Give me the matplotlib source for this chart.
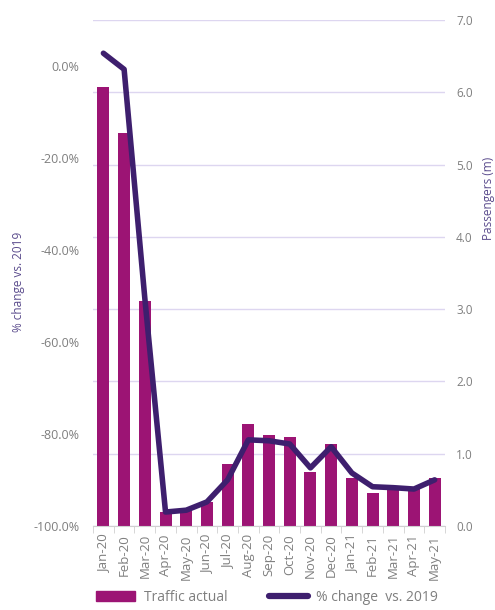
import numpy as np
import matplotlib.pyplot as plt
import matplotlib.patches as mpatches
from matplotlib.lines import Line2D
from matplotlib.ticker import FixedLocator

plt.rcParams['font.family'] = ['Open Sans', 'DejaVu Sans']

months = ['Jan-20', 'Feb-20', 'Mar-20', 'Apr-20', 'May-20', 'Jun-20', 'Jul-20',
          'Aug-20', 'Sep-20', 'Oct-20', 'Nov-20', 'Dec-20', 'Jan-21', 'Feb-21',
          'Mar-21', 'Apr-21', 'May-21']
traffic = [6.07, 5.44, 3.11, 0.19, 0.22, 0.33, 0.86, 1.41, 1.26, 1.23,
           0.75, 1.13, 0.66, 0.45, 0.52, 0.51, 0.66]
pct_change = [2.8, -0.7, -50.5, -97.0, -96.6, -94.8, -90.0, -81.3, -81.5,
              -82.2, -87.4, -82.8, -88.5, -91.5, -91.7, -92.0, -90.0]

left_ticks = [0, -20, -40, -60, -80, -100]
right_ticks = [0, 1, 2, 3, 4, 5, 6, 7]

bar_color = '#9c1474'
line_color = '#3e1f6e'
label_color = '#5a4b8c'
tick_color = '#7f7f7f'
grid_color = '#ddd6f0'

fig = plt.figure(figsize=(4.95, 6.10), dpi=100)
ax = fig.add_axes([0.188, 0.138, 0.711, 0.829])
ax2 = ax.twinx()
x = np.arange(len(months))

# bars on the passengers scale (shown on the right)
ax.bar(x, traffic, width=0.58, color=bar_color, zorder=2)
ax.set_ylim(0, 7)
ax.set_xlim(-0.5, len(months) - 0.5)
ax.yaxis.tick_right()
ax.yaxis.set_label_position('right')
ax.set_yticks(right_ticks)
ax.set_yticklabels([f'{v:.1f}' for v in right_ticks])
ax.set_ylabel('Passengers (m)', color=label_color, fontsize=8.5)
ax.yaxis.set_label_coords(1.104, 0.648)
ax.yaxis.grid(True, color=grid_color, linewidth=1)
ax.set_axisbelow(True)
ax.tick_params(axis='y', length=0, labelcolor=tick_color, labelsize=8.5, pad=8)

ax.set_xticks(x)
ax.set_xticklabels(months, rotation=90, color=tick_color, fontsize=9.5)
ax.xaxis.set_minor_locator(FixedLocator(np.arange(-0.5, len(months), 1)))
ax.tick_params(axis='x', which='major', length=0, pad=6)
ax.tick_params(axis='x', which='minor', length=5, color='#d0d0d0')

for side in ['top', 'left', 'right']:
    ax.spines[side].set_visible(False)
ax.spines['bottom'].set_color('#d0d0d0')

# line on the % change scale (shown on the left)
ax2.plot(x, pct_change, color=line_color, linewidth=4, solid_capstyle='round',
         solid_joinstyle='round', zorder=3)
ax2.set_ylim(-100, 10)
ax2.yaxis.tick_left()
ax2.yaxis.set_label_position('left')
ax2.set_yticks(left_ticks)
ax2.set_yticklabels([f'{v:.1f}%' for v in left_ticks])
ax2.set_ylabel('% change vs. 2019', color=label_color, fontsize=8.5)
ax2.yaxis.set_label_coords(-0.193, 0.482)
ax2.tick_params(axis='y', length=0, labelcolor=tick_color, labelsize=9, pad=10)
for side in ['top', 'left', 'right', 'bottom']:
    ax2.spines[side].set_visible(False)

handles = [
    mpatches.Patch(color=bar_color, label='Traffic actual'),
    Line2D([0], [0], color=line_color, linewidth=4.5, solid_capstyle='round',
           label='% change  vs. 2019'),
]
fig.legend(handles=handles, loc='lower center', bbox_to_anchor=(0.54, -0.012), ncol=2,
           frameon=False, fontsize=10, handlelength=2.8, handletextpad=0.6,
           columnspacing=3.0, labelcolor=tick_color)

fig.savefig('out.png', dpi=100)
